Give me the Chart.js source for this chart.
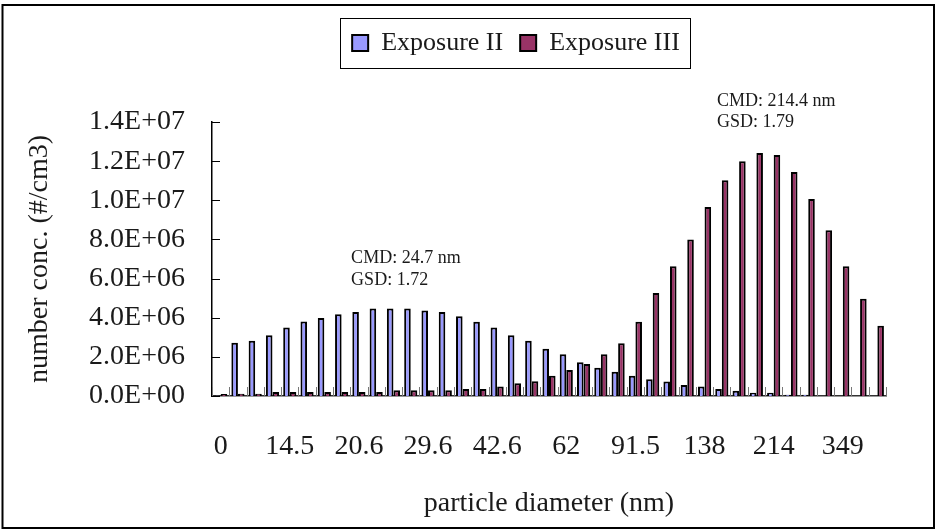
<!DOCTYPE html>
<html>
<head>
<meta charset="utf-8">
<script src="https://cdn.jsdelivr.net/npm/chart.js@4.4.1/dist/chart.umd.min.js"></script>
<style>
  body { margin: 0; background: #fff; }
  canvas { display: block; }
</style>
</head>
<body>
<canvas id="grafico" width="937" height="531"></canvas>
<script>
// particle diameter bins (nm) - only every 4th label is printed on the chart
const categorias = ['0', '', '', '', '14.5', '', '', '', '20.6', '', '', '', '29.6', '', '', '',
  '42.6', '', '', '', '62', '', '', '', '91.5', '', '', '', '138', '', '', '',
  '214', '', '', '', '349', '', ''];

// number concentration (#/cm3)
const exposure2 = [0.02e6, 2.72e6, 2.82e6, 3.11e6, 3.5e6, 3.81e6, 3.98e6, 4.18e6, 4.29e6, 4.47e6,
  4.47e6, 4.47e6, 4.37e6, 4.29e6, 4.08e6, 3.79e6, 3.5e6, 3.1e6, 2.82e6, 2.41e6,
  2.13e6, 1.73e6, 1.44e6, 1.24e6, 1.04e6, 0.85e6, 0.74e6, 0.56e6, 0.48e6, 0.36e6,
  0.27e6, 0.17e6, 0.17e6, 0.07e6, 0.07e6, 0, 0, 0, 0];
const exposure3 = [0.1e6, 0.12e6, 0.12e6, 0.2e6, 0.2e6, 0.2e6, 0.2e6, 0.2e6, 0.2e6, 0.2e6,
  0.3e6, 0.3e6, 0.3e6, 0.3e6, 0.36e6, 0.36e6, 0.48e6, 0.65e6, 0.75e6, 1.04e6,
  1.33e6, 1.63e6, 2.13e6, 2.7e6, 3.79e6, 5.26e6, 6.63e6, 8.0e6, 9.66e6, 11.02e6,
  12.0e6, 12.41e6, 12.31e6, 11.44e6, 10.07e6, 8.47e6, 6.63e6, 4.97e6, 3.59e6];

const yTicks = [0, 2e6, 4e6, 6e6, 8e6, 10e6, 12e6, 14e6];

// CMD / GSD notes: [category position, value of first baseline, lines]
const notas = [
  { x: 7.55, y: 6.79e6, linhas: ['CMD: 24.7 nm', 'GSD: 1.72'] },
  { x: 28.72, y: 14.82e6, linhas: ['CMD: 214.4 nm', 'GSD: 1.79'] }
];

const fonte = 'Liberation Serif, Times New Roman, serif';

function formatoE(v) {
  // 1.4E+07 style
  if (v === 0) return '0.0E+00';
  const exp = Math.floor(Math.log10(Math.abs(v)));
  const mant = v / Math.pow(10, exp);
  const e = (exp < 0 ? '-' : '+') + String(Math.abs(exp)).padStart(2, '0');
  return mant.toFixed(1) + 'E' + e;
}

const extras = {
  id: 'extras',
  beforeDraw(chart) {
    const c = chart.ctx;
    c.save();
    c.fillStyle = '#fff';
    c.fillRect(0, 0, chart.width, chart.height);
    c.restore();
  },
  afterLayout(chart) {
    // move the legend where the original had it
    const lg = chart.legend;
    const h = lg.bottom - lg.top;
    const shift = 516 - (lg.left + lg.right) / 2;
    lg.left += shift;
    lg.right += shift;
    lg.top = 13;
    lg.bottom = 13 + h;
  },
  afterDraw(chart) {
    const c = chart.ctx;
    const x = chart.scales.x;
    const y = chart.scales.y;
    const area = chart.chartArea;
    c.save();

    // y ticks pointing inside
    c.strokeStyle = '#000';
    c.lineWidth = 1;
    yTicks.forEach(function (t) {
      const py = Math.round(y.getPixelForValue(t)) + 0.5;
      c.beginPath();
      c.moveTo(area.left, py);
      c.lineTo(area.left + 8, py);
      c.stroke();
    });

    // x ticks between categories, pointing up
    c.strokeStyle = '#777';
    const w = (area.right - area.left) / categorias.length;
    for (let i = 0; i <= categorias.length; i++) {
      const px = Math.round(area.left + i * w) + 0.5;
      c.beginPath();
      c.moveTo(px, area.bottom);
      c.lineTo(px, area.bottom - 9);
      c.stroke();
    }

    // notes
    c.fillStyle = '#1a1a1a';
    c.font = '18px ' + fonte;
    c.textAlign = 'left';
    c.textBaseline = 'alphabetic';
    notas.forEach(function (n) {
      const px = x.getPixelForValue(n.x);
      const py = y.getPixelForValue(n.y);
      n.linhas.forEach(function (l, k) {
        c.fillText(l, px, py + k * 21.5);
      });
    });

    // legend frame
    const lg = chart.legend;
    const rowW = lg.lineWidths[0] - lg.options.labels.padding;
    const cx = (lg.left + lg.right) / 2;
    c.strokeStyle = '#000';
    c.lineWidth = 1;
    c.strokeRect(Math.round(cx - rowW / 2 - 12) + 0.5, 18.5, Math.round(rowW + 22), 50);

    // outer frame
    c.lineWidth = 2;
    c.strokeRect(2.5, 5, 931.5, 523);
    c.restore();
  }
};

window.onload = function () {
  const ctx = document.getElementById('grafico');

  new Chart(ctx, {
    type: 'bar',
    data: {
      labels: categorias,
      datasets: [
        {
          label: 'Exposure II',
          data: exposure2,
          backgroundColor: '#9999FF',
          borderColor: '#000',
          borderWidth: 2,
          categoryPercentage: 0.76,
          barPercentage: 1.0
        },
        {
          label: 'Exposure III',
          data: exposure3,
          backgroundColor: '#993366',
          borderColor: '#000',
          borderWidth: 2,
          categoryPercentage: 0.76,
          barPercentage: 1.0
        }
      ]
    },
    options: {
      responsive: false,
      animation: false,
      layout: { padding: { top: 69, left: 0, right: 51, bottom: 0 } },
      plugins: {
        legend: {
          position: 'top',
          labels: {
            font: { family: fonte, size: 26 },
            color: '#1a1a1a',
            boxWidth: 16,
            boxHeight: 16,
            padding: 17
          }
        },
        tooltip: { enabled: false }
      },
      scales: {
        x: {
          grid: { display: false, drawTicks: false },
          border: { display: true, color: '#333', width: 1.5 },
          ticks: {
            autoSkip: false,
            maxRotation: 0,
            minRotation: 0,
            padding: 34,
            color: '#1a1a1a',
            font: { family: fonte, size: 28 }
          },
          title: {
            display: true,
            text: 'particle diameter (nm)',
            color: '#1a1a1a',
            font: { family: fonte, size: 28 },
            padding: { top: 0, bottom: 11 }
          },
          afterFit: function (s) { s.height = 135; }
        },
        y: {
          min: 0,
          max: 14e6,
          afterBuildTicks: function (s) {
            s.ticks = yTicks.map(function (v) { return { value: v }; });
          },
          grid: { display: false, drawTicks: false },
          border: { display: true, color: '#000', width: 1.5 },
          ticks: {
            padding: 27,
            color: '#1a1a1a',
            font: { family: fonte, size: 28 },
            callback: function (v) { return formatoE(v); }
          },
          title: {
            display: true,
            text: 'number conc. (#/cm3)',
            color: '#1a1a1a',
            font: { family: fonte, size: 28 },
            padding: { top: 23, bottom: 0 }
          },
          afterFit: function (s) { s.width = 212; }
        }
      }
    },
    plugins: [extras]
  });
};
</script>
</body>
</html>
